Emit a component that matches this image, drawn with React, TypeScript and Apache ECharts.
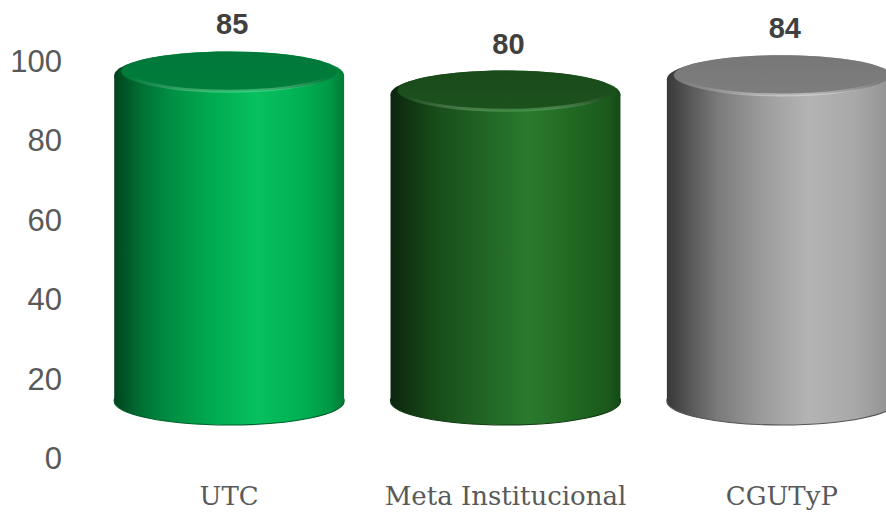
import React, { useEffect, useRef } from "react";
import * as echarts from "echarts";

const categories = ["UTC", "Meta Institucional", "CGUTyP"];
const values = [85, 80, 84];
const yTicks = [0, 20, 40, 60, 80, 100];

// per-bar shading palettes: [body stops], top face, highlight
const bodyStops = [
  [
    [0, "#00431f"], [0.1, "#006a30"], [0.22, "#008a40"], [0.42, "#00aa50"],
    [0.62, "#07c05f"], [0.82, "#00b052"], [0.94, "#009745"], [1, "#007a37"],
  ],
  [
    [0, "#0b240c"], [0.1, "#123a13"], [0.22, "#1a4f1b"], [0.45, "#236a26"],
    [0.6, "#2a7a2e"], [0.82, "#206621"], [0.94, "#1b5a1c"], [1, "#154a16"],
  ],
  [
    [0, "#383838"], [0.1, "#575757"], [0.22, "#7a7a7a"], [0.42, "#9c9c9c"],
    [0.62, "#b4b4b4"], [0.82, "#a8a8a8"], [0.94, "#979797"], [1, "#858585"],
  ],
];
const topFace = ["#007e3a", "#1c521d", "#7e7e7e"];
const topFaceBack = ["#00783a", "#1a4a1b", "#777777"];
const rimHighlight = ["#5ee39a", "#5aa85c", "#e4e4e4"];
const bottomEdge = ["#00602c", "#123c13", "#555555"];

function grad(i: number) {
  return {
    type: "linear",
    x: 0, y: 0, x2: 1, y2: 0,
    colorStops: bodyStops[i].map(([o, c]) => ({ offset: o as number, color: c as string })),
  };
}

export default function App() {
  const ref = useRef<HTMLDivElement>(null);
  useEffect(() => {
    if (!ref.current) return;
    document.body.style.margin = "0";
    const chart = echarts.init(ref.current, undefined, { renderer: "svg" });
    const RY = 24;
    chart.setOption({
      animation: false,
      backgroundColor: "#ffffff",
      grid: [
        { left: 91, width: 829, top: 61.5, bottom: 55.5, outerBoundsMode: "none", containLabel: false },
        { left: 91, width: 829, top: 18, bottom: 113, outerBoundsMode: "none", containLabel: false },
      ],
      xAxis: [
        {
          type: "category", gridIndex: 0, data: categories,
          axisLine: { show: false }, axisTick: { show: false },
          axisLabel: {
            interval: 0, hideOverlap: false,
            margin: 24, fontFamily: "DejaVu Serif", fontSize: 26, color: "#595959",
          },
        },
        {
          type: "category", gridIndex: 1, data: categories, show: false,
        },
      ],
      yAxis: [
        {
          type: "value", gridIndex: 0, min: 0, max: 100, interval: 20,
          splitLine: { show: false }, axisLine: { show: false }, axisTick: { show: false },
          axisLabel: {
            margin: 29, fontFamily: "Liberation Sans", fontSize: 31, color: "#595959",
          },
        },
        { type: "value", gridIndex: 1, min: 0, max: 100, show: false, splitLine: { show: false } },
      ],
      series: [
        {
          type: "custom",
          xAxisIndex: 1,
          yAxisIndex: 1,
          clip: false,
          data: values.map((v, i) => [i, v]),
          encode: { x: 0, y: 1 },
          renderItem: (params: any, api: any) => {
            const i = api.value(0);
            const v = api.value(1);
            const top = api.coord([i, v]);
            const base = api.coord([i, 0]);
            const bw = api.size([1, 0])[0] * 0.832;
            const cx = top[0];
            const rx = bw / 2;
            const x1 = cx - rx;
            const g = grad(i);
            const irx = rx - 7;
            const iry = RY - 4;
            const icy = top[1] - 4;
            return {
              type: "group",
              children: [
                {
                  type: "ellipse",
                  shape: { cx, cy: base[1], rx, ry: RY },
                  style: { fill: g, stroke: bottomEdge[i], lineWidth: 1.2 },
                },
                {
                  type: "rect",
                  shape: { x: x1, y: top[1], width: bw, height: base[1] - top[1] },
                  style: { fill: g },
                },
                {
                  type: "ellipse",
                  shape: { cx, cy: top[1], rx, ry: RY },
                  style: { fill: g },
                },
                {
                  type: "ellipse",
                  shape: { cx, cy: icy, rx: irx, ry: iry },
                  style: {
                    fill: {
                      type: "linear", x: 0, y: 0, x2: 0, y2: 1,
                      colorStops: [
                        { offset: 0, color: topFaceBack[i] },
                        { offset: 1, color: topFace[i] },
                      ],
                    },
                  },
                },
                {
                  type: "path",
                  shape: {
                    pathData: `M ${cx - irx + 8} ${icy + 6} A ${irx} ${iry + 2} 0 0 0 ${cx + irx - 8} ${icy + 6}`,
                  },
                  style: {
                    fill: "none",
                    lineWidth: 3,
                    stroke: {
                      type: "linear", x: 0, y: 0, x2: 1, y2: 0,
                      colorStops: [
                        { offset: 0, color: "rgba(255,255,255,0)" },
                        { offset: 0.5, color: rimHighlight[i] },
                        { offset: 0.62, color: rimHighlight[i] },
                        { offset: 1, color: "rgba(255,255,255,0)" },
                      ],
                    },
                    opacity: 0.55,
                  },
                },
                {
                  type: "text",
                  style: {
                    text: String(v),
                    x: cx + 3,
                    y: top[1] - 51,
                    align: "center",
                    verticalAlign: "middle",
                    fontFamily: "Liberation Sans",
                    fontWeight: "bold",
                    fontSize: 29,
                    fill: "#404040",
                  },
                },
              ],
            };
          },
        },
      ],
    });
    return () => chart.dispose();
  }, []);
  return <div ref={ref} style={{ width: 886, height: 514 }} />;
}
